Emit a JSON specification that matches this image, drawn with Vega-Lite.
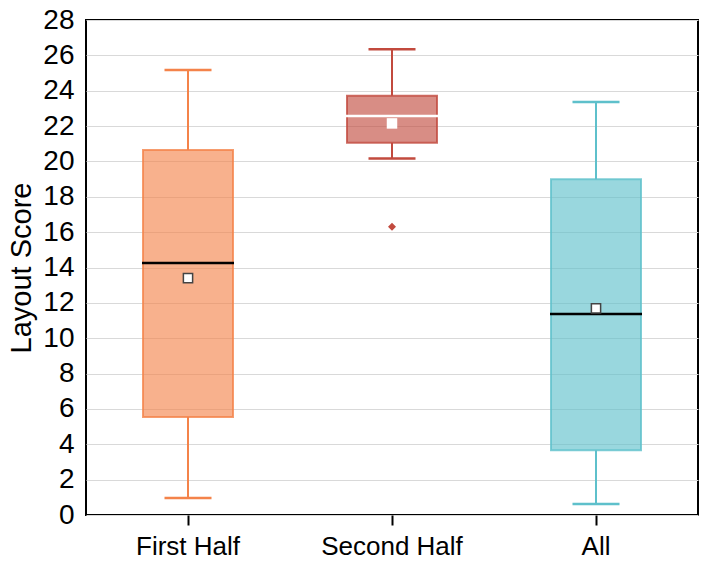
{
  "$schema": "https://vega.github.io/schema/vega-lite/v6.json",
  "width": 612,
  "height": 495,
  "autosize": "none",
  "padding": {"left": 86, "top": 20, "right": 6, "bottom": 59},
  "background": "white",
  "config": {
    "view": {"stroke": "black", "strokeWidth": 2},
    "font": "Liberation Sans",
    "axis": {"labelFont": "Liberation Sans", "titleFont": "Liberation Sans", "labelColor": "black", "titleColor": "black", "domain": false},
    "axisY": {"labelFontSize": 28, "titleFontSize": 29, "titleFontWeight": "normal", "ticks": false, "labelPadding": 12, "titlePadding": 6, "gridColor": "#d9d9d9", "gridWidth": 1, "labelOverlap": false},
    "axisX": {"labelFontSize": 26, "labelAngle": 0, "tickSize": 10, "tickWidth": 2, "tickColor": "black", "labelPadding": 8}
  },
  "datasets": {
    "boxes": [
      {"group": "First Half", "lo": 0.96, "q1": 5.54, "median": 14.25, "q3": 20.64, "hi": 25.17, "mean": 13.4},
      {"group": "Second Half", "lo": 20.17, "q1": 21.06, "median": 22.57, "q3": 23.72, "hi": 26.34, "mean": 22.15},
      {"group": "All", "lo": 0.62, "q1": 3.66, "median": 11.37, "q3": 18.99, "hi": 23.36, "mean": 11.69}
    ],
    "outliers": [
      {"group": "Second Half", "value": 16.31}
    ]
  },
  "data": {"name": "boxes"},
  "encoding": {
    "x": {
      "field": "group", "type": "nominal", "sort": ["First Half", "Second Half", "All"],
      "scale": {"paddingInner": 0, "paddingOuter": 0},
      "axis": {"title": null, "grid": false}
    }
  },
  "layer": [
    {
      "mark": {"type": "rule", "strokeWidth": 2},
      "encoding": {
        "y": {"field": "lo", "type": "quantitative", "title": "Layout Score", "scale": {"domain": [0, 28], "nice": false},
          "axis": {"tickCount": 14, "labelOverlap": false}},
        "y2": {"field": "q1"},
        "color": {"field": "group", "type": "nominal", "scale": {"domain": ["First Half", "Second Half", "All"], "range": ["#F4834A", "#C24A3E", "#5EC0CB"]}, "legend": null}
      }
    },
    {
      "mark": {"type": "rule", "strokeWidth": 2},
      "encoding": {
        "y": {"field": "q3", "type": "quantitative", "title": "Layout Score", "axis": {"tickCount": 14, "labelOverlap": false}},
        "y2": {"field": "hi"},
        "color": {"field": "group", "type": "nominal", "legend": null}
      }
    },
    {
      "mark": {"type": "tick", "size": 47, "thickness": 2.5, "opacity": 1},
      "encoding": {
        "y": {"field": "hi", "type": "quantitative", "title": "Layout Score", "axis": {"tickCount": 14, "labelOverlap": false}},
        "color": {"field": "group", "type": "nominal", "legend": null}
      }
    },
    {
      "mark": {"type": "tick", "size": 47, "thickness": 2.5, "opacity": 1},
      "encoding": {
        "y": {"field": "lo", "type": "quantitative", "title": "Layout Score", "axis": {"tickCount": 14, "labelOverlap": false}},
        "color": {"field": "group", "type": "nominal", "legend": null}
      }
    },
    {
      "mark": {"type": "bar", "width": 90, "strokeWidth": 2, "fillOpacity": 0.63, "strokeOpacity": 0.8},
      "encoding": {
        "y": {"field": "q1", "type": "quantitative", "title": "Layout Score", "axis": {"tickCount": 14, "labelOverlap": false}},
        "y2": {"field": "q3"},
        "fill": {"field": "group", "type": "nominal", "scale": {"domain": ["First Half", "Second Half", "All"], "range": ["#F4834A", "#C24A3E", "#5EC0CB"]}, "legend": null},
        "stroke": {"field": "group", "type": "nominal", "scale": {"domain": ["First Half", "Second Half", "All"], "range": ["#F4834A", "#C24A3E", "#5EC0CB"]}, "legend": null}
      }
    },
    {
      "transform": [{"filter": "datum.group !== 'Second Half'"}],
      "mark": {"type": "tick", "size": 92, "thickness": 2.5, "color": "black", "opacity": 1},
      "encoding": {
        "y": {"field": "median", "type": "quantitative", "title": "Layout Score", "axis": {"tickCount": 14, "labelOverlap": false}}
      }
    },
    {
      "transform": [{"filter": "datum.group === 'Second Half'"}],
      "mark": {"type": "tick", "size": 92, "thickness": 2.5, "color": "white", "opacity": 1},
      "encoding": {
        "y": {"field": "median", "type": "quantitative", "title": "Layout Score", "axis": {"tickCount": 14, "labelOverlap": false}}
      }
    },
    {
      "transform": [{"filter": "datum.group !== 'Second Half'"}],
      "mark": {"type": "point", "shape": "square", "filled": true, "size": 85, "fill": "white", "stroke": "#444444", "strokeWidth": 1.5, "opacity": 1},
      "encoding": {
        "y": {"field": "mean", "type": "quantitative", "title": "Layout Score", "axis": {"tickCount": 14, "labelOverlap": false}}
      }
    },
    {
      "transform": [{"filter": "datum.group === 'Second Half'"}],
      "mark": {"type": "point", "shape": "square", "filled": true, "size": 110, "fill": "white", "strokeWidth": 0, "opacity": 1},
      "encoding": {
        "y": {"field": "mean", "type": "quantitative", "title": "Layout Score", "axis": {"tickCount": 14, "labelOverlap": false}}
      }
    },
    {
      "data": {"name": "outliers"},
      "mark": {"type": "point", "shape": "diamond", "filled": true, "size": 65, "color": "#C24A3E", "opacity": 1},
      "encoding": {
        "y": {"field": "value", "type": "quantitative", "title": "Layout Score", "axis": {"tickCount": 14, "labelOverlap": false}}
      }
    }
  ]
}
